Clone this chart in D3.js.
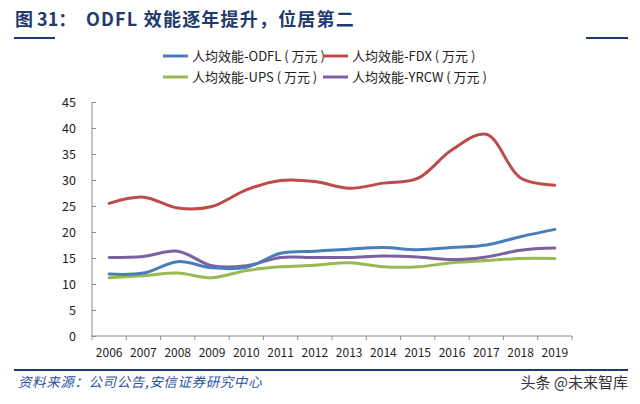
<!DOCTYPE html>
<html><head><meta charset="utf-8">
<script src="https://cdn.jsdelivr.net/npm/d3@7"></script>
<style>
html,body{margin:0;padding:0;background:#fff;}
svg{display:block;font-family:"Noto Sans CJK SC","Noto Sans",sans-serif;}
</style></head>
<body><svg id="c" width="640" height="404"></svg>
<script>
const years = ["2006","2007","2008","2009","2010","2011","2012","2013","2014","2015","2016","2017","2018","2019"];
const odfl = [11.9,12.1,14.3,13.1,13.2,15.9,16.3,16.7,17.0,16.6,17.0,17.5,19.1,20.5];
const fdx  = [25.5,26.7,24.6,24.9,28.1,29.9,29.7,28.4,29.4,30.3,35.8,38.8,30.4,29.0];
const ups  = [11.2,11.6,12.1,11.2,12.6,13.3,13.6,14.1,13.3,13.3,14.1,14.5,14.9,14.9];
const yrcw = [15.1,15.3,16.3,13.5,13.5,15.1,15.1,15.1,15.4,15.2,14.7,15.2,16.5,16.9];
const yTicks = [0,5,10,15,20,25,30,35,40,45];
const seriesNames = ["人均效能-ODFL ( 万元 )","人均效能-FDX ( 万元 )","人均效能-UPS ( 万元 )","人均效能-YRCW ( 万元 )"];
const seriesColors = ["#4a7ebb","#be4b48","#98b954","#7d60a0"];
const seriesData = [odfl, fdx, ups, yrcw];

const svg = d3.select("#c");
const navy = "#1f3a6e";

// Title
const t = svg.append("text").attr("x",15).attr("y",26).attr("fill",navy)
  .attr("font-size",18).attr("font-weight","bold");
t.append("tspan").text("图 31：");
t.append("tspan").attr("x",86).attr("letter-spacing",1.2).text("ODFL 效能逐年提升，位居第二");
svg.append("line").attr("x1",14).attr("x2",55).attr("y1",38).attr("y2",38).attr("stroke",navy).attr("stroke-width",2);
svg.append("line").attr("x1",586).attr("x2",628).attr("y1",38).attr("y2",38).attr("stroke",navy).attr("stroke-width",2);

// Scales
const x = d3.scaleBand().domain(years).range([92,572]);
const y = d3.scaleLinear().domain([0,45]).range([336,102]);
const cx = d => x(d) + x.bandwidth()/2;

const axisColor = "#8c8c8c";
// Y axis
const ya = svg.append("g").attr("transform","translate(92,0)")
  .call(d3.axisRight(y).tickValues(yTicks).tickSize(4).tickFormat(""));
ya.select(".domain").attr("stroke",axisColor).attr("d","M0,102V336");
ya.selectAll(".tick line").attr("stroke",axisColor);
svg.append("g").selectAll("text").data(yTicks).join("text")
  .attr("x",76).attr("y",d=>y(d)+4.5).attr("text-anchor","end")
  .attr("font-size",12.5).attr("fill","#222").text(d=>d);

// X axis
svg.append("line").attr("x1",92).attr("x2",572).attr("y1",336).attr("y2",336).attr("stroke",axisColor);
const edges = years.map(d=>x(d)).concat([x(years[years.length-1])+x.bandwidth()]);
svg.append("g").selectAll("line").data(edges).join("line")
  .attr("x1",d=>d).attr("x2",d=>d).attr("y1",336).attr("y2",340).attr("stroke",axisColor);
svg.append("g").selectAll("text").data(years).join("text")
  .attr("x",d=>cx(d)).attr("y",357).attr("text-anchor","middle")
  .attr("font-size",12).attr("fill","#222").text(d=>d);

// Lines
const line = d3.line().x((d,i)=>cx(years[i])).y(d=>y(d)).curve(d3.curveCatmullRom.alpha(0.5));
const drawOrder = [2,3,0,1];
drawOrder.forEach(k=>{
  svg.append("path").datum(seriesData[k]).attr("d",line)
    .attr("fill","none").attr("stroke",seriesColors[k]).attr("stroke-width",3)
    .attr("stroke-linejoin","round").attr("stroke-linecap","round");
});

// Legend
const legPos = [[163,56],[323,56],[163,77],[323,77]];
seriesNames.forEach((n,i)=>{
  const [lx,ly] = legPos[i];
  svg.append("line").attr("x1",lx).attr("x2",lx+25).attr("y1",ly).attr("y2",ly)
    .attr("stroke",seriesColors[i]).attr("stroke-width",3);
  svg.append("text").attr("x",lx+29).attr("y",ly+4.5).attr("font-size",13)
    .attr("fill","#222").text(n);
});

// Footer
svg.append("line").attr("x1",14).attr("x2",628).attr("y1",370).attr("y2",370).attr("stroke",navy).attr("stroke-width",2);
svg.append("text").attr("x",18).attr("y",387).attr("font-size",13.5).attr("font-style","italic")
  .attr("fill","#2a52a0").attr("letter-spacing",0.6).text("资料来源：公司公告,安信证券研究中心");
svg.append("text").attr("x",628).attr("y",388).attr("text-anchor","end").attr("font-size",15)
  .attr("fill","#333").text("头条 @未来智库");
</script></body></html>
